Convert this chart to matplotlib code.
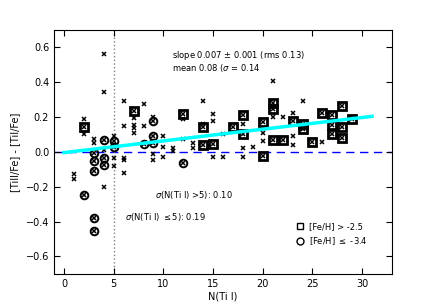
import matplotlib
matplotlib.use("Agg")
import matplotlib.pyplot as plt

# all stars (crosses)
n_all = [1, 1,
         2, 2, 2, 2,
         3, 3, 3, 3, 3, 3, 3,
         4, 4, 4, 4, 4, 4, 4,
         5, 5, 5, 5, 5,
         6, 6, 6, 6, 6,
         7, 7, 7, 7, 7,
         8, 8, 8,
         9, 9, 9, 9, 9, 9,
         10, 10, 10,
         11, 11,
         12, 12, 12, 12,
         13, 13,
         14, 14, 14, 14,
         15, 15, 15, 15,
         16, 16,
         17,
         18, 18, 18, 18, 18,
         19,
         20, 20, 20, 20,
         21, 21, 21, 21, 21,
         22, 22,
         23, 23, 23, 23,
         24, 24, 24,
         25,
         26, 26,
         27, 27, 27,
         28, 28, 28,
         29]
d_all = [-0.125, -0.155,
         0.186, 0.144, 0.10, -0.245,
         0.074, 0.05, -0.005, -0.05, -0.11, -0.38, -0.455,
         0.56, 0.345, 0.066, 0.008, -0.037, -0.078, -0.20,
         0.093, 0.06, 0.03, -0.037, -0.08,
         0.29, 0.15, -0.033, -0.047, -0.12,
         0.235, 0.196, 0.157, 0.138, 0.11,
         0.275, 0.147, 0.047,
         0.20, 0.177, 0.09, 0.05, -0.01, -0.047,
         0.09, 0.03, -0.03,
         0.02, 0.005,
         0.215, 0.19, 0.072, -0.066,
         0.05, 0.025,
         0.29, 0.16, 0.14, 0.04,
         0.215, 0.175, 0.047, -0.027,
         0.10, -0.027,
         0.14,
         0.21, 0.16, 0.10, 0.02, -0.03,
         0.03,
         0.17, 0.11, 0.06, -0.023,
         0.405, 0.28, 0.245, 0.20, 0.07,
         0.20, 0.07,
         0.225, 0.18, 0.09, 0.04,
         0.29, 0.16, 0.13,
         0.056,
         0.225, 0.056,
         0.21, 0.157, 0.10,
         0.265, 0.14, 0.08,
         0.19]

# [Fe/H] > -2.5 (squares)
n_hi = [2, 7, 12, 14, 14, 15, 17, 18, 18, 20, 20, 21, 21, 21, 22, 23,
        24, 24, 25, 26, 27, 27, 27, 28, 28, 28, 29]
d_hi = [0.144, 0.235, 0.215, 0.14, 0.04, 0.047, 0.14, 0.21, 0.10, 0.17,
        -0.023, 0.28, 0.245, 0.07, 0.07, 0.18, 0.16, 0.13, 0.056, 0.225,
        0.21, 0.157, 0.10, 0.265, 0.14, 0.08, 0.19]

# [Fe/H] <= -3.4 (circles)
n_lo = [2, 3, 3, 3, 3, 3, 4, 4, 4, 5, 5, 8, 9, 9, 9, 12]
d_lo = [-0.245, -0.005, -0.05, -0.11, -0.38, -0.455, 0.066, -0.037, -0.078,
        0.06, 0.03, 0.047, 0.177, 0.09, 0.05, -0.066]

# linear fit
fit_x = [0, 31]
fit_y = [-0.004, 0.204]

plt.rcParams["font.family"] = "DejaVu Sans"
plt.rcParams["mathtext.fontset"] = "dejavusans"

fig = plt.figure(figsize=(4.36, 3.05), dpi=100)
ax = fig.add_axes([0.124, 0.102, 0.775, 0.8])

ax.axhline(0, color="blue", lw=1, ls=(0, (6, 4)), zorder=1)
ax.axvline(5, color="gray", lw=1, ls=":", zorder=1)

ax.plot(n_all, d_all, "x", color="black", ms=3.5, mew=1.1, ls="none", zorder=3)
ax.plot(n_hi, d_hi, "s", mfc="none", mec="black", ms=5.5, mew=2, ls="none", zorder=4)
ax.plot(n_lo, d_lo, "o", mfc="none", mec="black", ms=5.5, mew=1.4, ls="none", zorder=4)
ax.plot(fit_x, fit_y, color="cyan", lw=2.5, zorder=5)

ax.text(10.9, 0.54, r"slope 0.007 $\pm$ 0.001 (rms 0.13)", fontsize=6)
ax.text(10.9, 0.466, r"mean 0.08 ($\sigma$ = 0.14", fontsize=6)
ax.text(9.2, -0.265, r"$\sigma$(N(Ti I) >5): 0.10", fontsize=6)
ax.text(6.1, -0.39, r"$\sigma$(N(Ti I) $\leq$5): 0.19", fontsize=6)

h1, = ax.plot([], [], "s", mfc="none", mec="black", ms=5, mew=1)
h2, = ax.plot([], [], "o", mfc="none", mec="black", ms=5, mew=1)
ax.legend([h1, h2], ["[Fe/H] > -2.5", r"[Fe/H] $\leq$ -3.4"], loc="lower right",
          bbox_to_anchor=(0.95, 0.08), frameon=False, fontsize=6,
          handletextpad=0.5, labelspacing=0.5, handlelength=1)

ax.set_xlim(-1, 33)
ax.set_ylim(-0.7, 0.7)
ax.set_xticks([0, 5, 10, 15, 20, 25, 30])
ax.set_yticks([-0.6, -0.4, -0.2, 0.0, 0.2, 0.4, 0.6])
ax.tick_params(direction="in", top=True, right=True, labelsize=7, length=4)
ax.set_xlabel("N(Ti I)", fontsize=7, labelpad=2)
ax.set_ylabel("[TiII/Fe] - [TiI/Fe]", fontsize=7, labelpad=4)

fig.savefig("out.png", dpi=100)
